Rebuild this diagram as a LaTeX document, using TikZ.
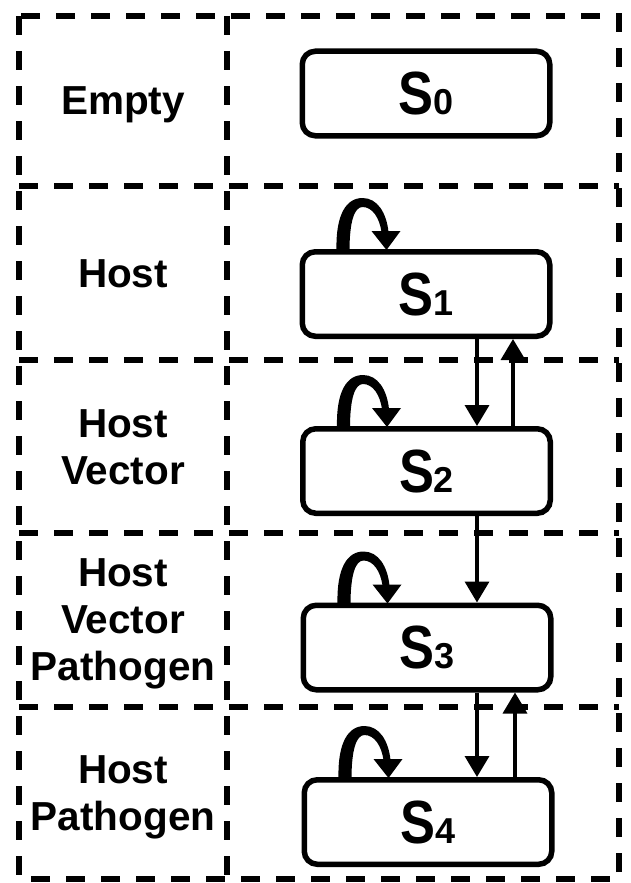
\documentclass[tikz,border=0pt]{standalone}
\usepackage{fontspec}
\usepackage{graphicx}
\setmainfont{Liberation Sans}
\usetikzlibrary{arrows.meta,calc}
\begin{document}
\begin{tikzpicture}[x=1pt,y=-1pt,
  grid/.style={line width=5.5pt, dash pattern=on 19pt off 16pt},
  state/.style={draw, line width=5.5pt, rounded corners=13pt,
    minimum width=247.5pt, minimum height=84.5pt, inner sep=0pt},
  lab/.style={font=\fontsize{40.5}{47}\selectfont\bfseries, align=center},
  flow/.style={line width=3.6pt, -{Triangle[length=21pt,width=24pt]}},
  selfloop/.pic={
    \fill (37,2) .. controls (36,-35) and (47,-51) .. (63,-51)
      .. controls (78,-51) and (87,-36) .. (89,-17) -- (82,-17)
      .. controls (80,-31) and (73,-42) .. (63,-42)
      .. controls (55,-42) and (50,-28) .. (50,2) -- cycle;
    \fill (72,-18) -- (101,-18) -- (87,1) -- cycle;
  }]
\newcommand{\stname}[1]{\fontsize{61}{61}\selectfont\bfseries\scalebox{0.86}[1]{S}{\fontsize{36}{36}\selectfont #1}}
\fill[white] (0,0) rectangle (630,883);
\useasboundingbox (0,0) rectangle (630,883);

% grid
\draw[grid] (19,16) rectangle (619,879);
\draw[grid] (227,16) -- (227,879);
\foreach \yy in {186,360,533,707} \draw[grid] (19,\yy) -- (619,\yy);

% labels
\node[lab, anchor=base] (lEmpty) at (123,114) {Empty};
\node[lab, anchor=base] (lHost) at (123,287) {Host};
\node[lab] (lHV) at (123,447) {Host\\Vector};
\node[lab] (lHVP) at (123,624) {Host\\Vector\\Pathogen};
\node[lab] (lHP) at (123,797) {Host\\Pathogen};

% states
\node[state] (S0) at (426,93.5) {\stname{0}};
\node[state] (S1) at (426,294) {\stname{1}};
\node[state] (S2) at (426.5,471) {\stname{2}};
\node[state] (S3) at (427,647.5) {\stname{3}};
\node[state] (S4) at (428,822) {\stname{4}};

% self loops
\foreach \s in {S1,S2,S3,S4} \pic at (\s.north west) {selfloop};

% transitions
\coordinate (dn) at (477,0);
\coordinate (upa) at (513,0);
\coordinate (upb) at (515,0);
\draw[flow] (S1.south -| dn) -- (S2.north -| dn);
\draw[flow] (S2.north -| upa) -- (S1.south -| upa);
\draw[flow] (S2.south -| dn) -- (S3.north -| dn);
\draw[flow] (S3.south -| dn) -- (S4.north -| dn);
\draw[flow] (S4.north -| upb) -- (S3.south -| upb);
\end{tikzpicture}
\end{document}
